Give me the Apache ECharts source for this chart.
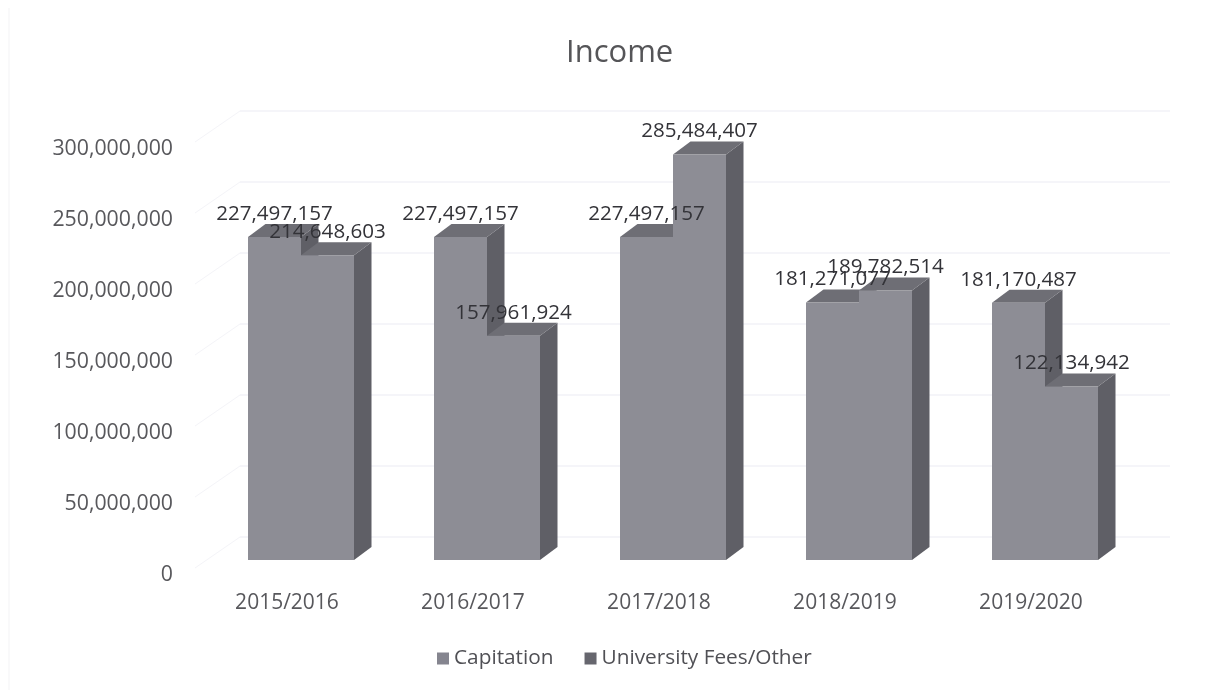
<!DOCTYPE html>
<html><head><meta charset="utf-8">
<style>html,body{margin:0;padding:0;background:#fff}#c{width:1227px;height:690px}</style>
<script src="https://cdn.jsdelivr.net/npm/echarts@6/dist/echarts.min.js"></script>
</head><body><div id="c"></div>
<script>
var categories = ['2015/2016','2016/2017','2017/2018','2018/2019','2019/2020'];
var capitation = [227497157,227497157,227497157,181271077,181170487];
var universityFees = [214648603,157961924,285484407,189782514,122134942];
var yTicks = [0,50000000,100000000,150000000,200000000,250000000,300000000];
var FONT = '"Open Sans", sans-serif';
var chart = echarts.init(document.getElementById('c'));
var DX = 17.5, DY = -13, WX = 32, WY = -23, BAR = 53;
function barLeft(c, pos){ return c - BAR + pos*BAR; }
function barItem(pos){
  return function(params, api){
    var i = api.value(0), v = api.value(1);
    var c = api.coord([i, v]), b = api.coord([i, 0]);
    var x0 = barLeft(c[0], pos), x1 = x0 + BAR, t = c[1], y = b[1];
    return {type:'group', children:[
      {type:'polygon', shape:{points:[[x1,t],[x1+DX,t+DY],[x1+DX,y+DY],[x1,y]]}, style:{fill:'#5f5f66'}},
      {type:'polygon', shape:{points:[[x0,t],[x0+DX,t+DY],[x1+DX,t+DY],[x1,t]]}, style:{fill:'#6e6e75'}},
      {type:'rect', shape:{x:x0,y:t,width:BAR,height:y-t}, style:{fill:'#8d8d95'}}
    ]};
  };
}
function labelItem(pos){
  return function(params, api){
    var i = api.value(0), v = api.value(1);
    var c = api.coord([i, v]);
    return {type:'text', style:{text:Number(v).toLocaleString('en-US'), x:barLeft(c[0], pos)+BAR/2, y:c[1]-23, align:'center', verticalAlign:'middle', font:'20.6px '+FONT, fill:'#333338'}};
  };
}
function wallItem(params, api){
  var v = api.value(0), y = api.coord([0, v])[1];
  var half = api.size([1,0])[0]/2;
  var x0 = api.coord([0, v])[0] - half;
  var xEnd = api.coord([categories.length-1, v])[0] + half;
  return {type:'group', children:[
    {type:'line', shape:{x1:x0+WX,y1:y+WY,x2:xEnd+WX,y2:y+WY}, style:{stroke:'#ebebf3',lineWidth:1,fill:null}},
    {type:'line', shape:{x1:x0-13,y1:y+8,x2:x0+WX,y2:y+WY}, style:{stroke:'#f4f4f8',lineWidth:1,fill:null}}
  ]};
}
function pairs(arr){ return arr.map(function(v,i){return [i,v];}); }
chart.setOption({
  animation:false,
  backgroundColor:'#ffffff',
  title:{text:'Income', left:566, top:38, padding:0, textStyle:{fontFamily:FONT,fontSize:31,fontWeight:'normal',color:'#555558'}},
  legend:{left:437, top:648, padding:0, itemWidth:12, itemHeight:12, itemGap:31, icon:'rect',
    textStyle:{fontFamily:FONT,fontSize:20.8,color:'#505055'},
    data:['Capitation','University Fees/Other']},
  grid:{left:208, right:89, top:134, bottom:130, containLabel:false},
  xAxis:{type:'category', data:categories, axisLine:{show:false}, axisTick:{show:false},
    axisLabel:{margin:33, padding:[0,28,0,0], fontFamily:FONT, fontSize:21, color:'#58585c'}},
  yAxis:{type:'value', min:0, max:300000000, interval:50000000, splitLine:{show:false}, axisLine:{show:false}, axisTick:{show:false},
    axisLabel:{margin:35, verticalAlign:'top', lineHeight:30, fontFamily:FONT, fontSize:21.3, color:'#58585c',
      formatter:function(v){return v.toLocaleString('en-US');}}},
  graphic:[{type:'line', silent:true, shape:{x1:9,y1:8,x2:9,y2:690}, style:{stroke:'#f3f3f5',lineWidth:1}}],
  series:[
    {type:'custom', name:'walls', silent:true, z:1, data:yTicks.map(function(v){return [v];}), encode:{x:-1,y:0}, renderItem:wallItem},
    {type:'custom', name:'Capitation', z:2, itemStyle:{color:'#85858f'}, data:pairs(capitation), encode:{x:0,y:1}, renderItem:barItem(0)},
    {type:'custom', name:'University Fees/Other', z:3, itemStyle:{color:'#66666e'}, data:pairs(universityFees), encode:{x:0,y:1}, renderItem:barItem(1)},
    {type:'custom', name:'capLabels', silent:true, z:5, data:pairs(capitation), encode:{x:0,y:1}, renderItem:labelItem(0)},
    {type:'custom', name:'feeLabels', silent:true, z:5, data:pairs(universityFees), encode:{x:0,y:1}, renderItem:labelItem(1)}
  ]
});
</script></body></html>
